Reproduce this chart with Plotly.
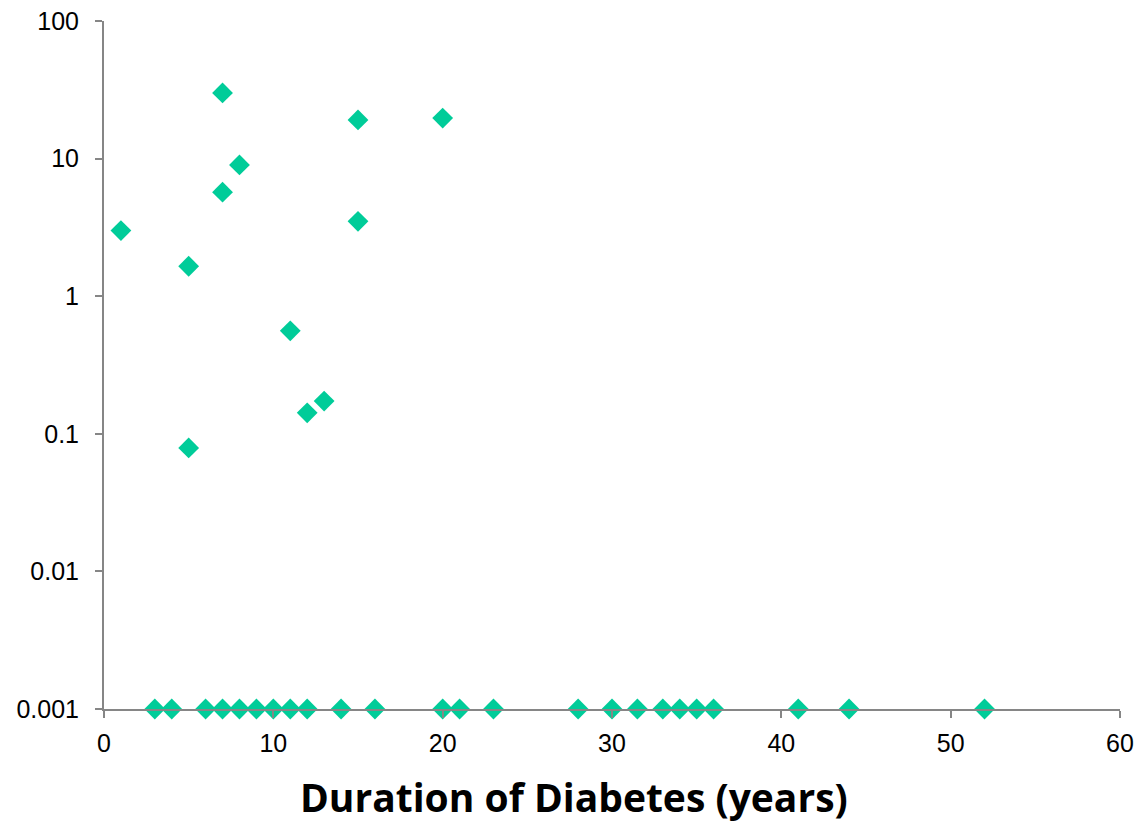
import plotly.graph_objects as go

# Detected values (duration in years, value on log scale)
duration_detected = [1, 5, 5, 7, 7, 8, 11, 12, 13, 15, 15, 20]
value_detected = [3.0, 1.65, 0.079, 30, 5.7, 9.0, 0.56, 0.142, 0.173, 19.1, 3.5, 19.7]

# Non-detected values plotted at the floor value
duration_floor = [3, 4, 6, 7, 8, 9, 10, 11, 12, 14, 16, 20, 21, 23,
                  28, 30, 31.5, 33, 34, 35, 36, 41, 44, 52]
floor_value = 0.001

y_tickvals = [0.001, 0.01, 0.1, 1, 10, 100]
y_ticktext = ["0.001", "0.01", "0.1", "1", "10", "100"]
x_tickvals = [0, 10, 20, 30, 40, 50, 60]

xs = duration_detected + duration_floor
ys = value_detected + [floor_value] * len(duration_floor)

fig = go.Figure()
fig.add_trace(go.Scatter(
    x=xs, y=ys, mode="markers",
    marker=dict(symbol="diamond", size=16, color="#00CC99", line=dict(width=0)),
    showlegend=False, cliponaxis=False,
))

axis_color = "#868686"
fig.update_layout(
    width=1140, height=823,
    margin=dict(l=104, r=20, t=21, b=114, autoexpand=False),
    paper_bgcolor="white", plot_bgcolor="white",
    font=dict(family="Liberation Sans", size=25, color="black"),
    xaxis=dict(
        range=[0, 60], tickvals=x_tickvals, showgrid=False, zeroline=False,
        showline=True, linecolor=axis_color, linewidth=2,
        ticks="outside", ticklen=7, tickwidth=2, tickcolor=axis_color,
        tickfont=dict(size=25), ticklabelstandoff=4, automargin=False,
    ),
    yaxis=dict(
        type="log", range=[-3, 2], tickvals=y_tickvals, ticktext=y_ticktext,
        showgrid=False, zeroline=False,
        showline=True, linecolor=axis_color, linewidth=2,
        ticks="outside", ticklen=7, tickwidth=2, tickcolor=axis_color,
        tickfont=dict(size=25), ticklabelstandoff=11, automargin=False,
    ),
    annotations=[dict(
        text="<b>Duration of Diabetes (years)</b>",
        xref="paper", yref="paper", x=0.463, y=-0.127,
        xanchor="center", yanchor="middle", showarrow=False,
        font=dict(family="Open Sans", size=39, color="black"),
    )],
)

fig.write_html("out.html")
